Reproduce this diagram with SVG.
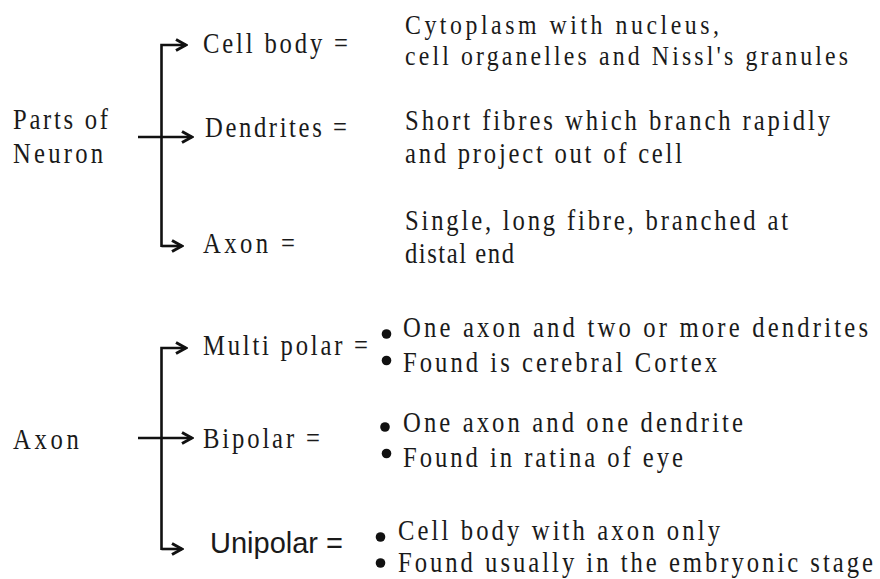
<svg xmlns="http://www.w3.org/2000/svg" width="880" height="579" viewBox="0 0 880 579">
<style>
.t{font-family:"Liberation Serif","Times New Roman",serif;font-size:29px;fill:#1a1a1a}
.sm{font-size:28px}
.s{font-family:"Liberation Sans",Arial,sans-serif;font-size:29px;fill:#1a1a1a}
.c{stroke:#111;stroke-width:2.6;fill:none}
.b{fill:#111}
</style>
<defs>
<marker id="ah" viewBox="0 0 14 14" refX="12" refY="7" markerWidth="14" markerHeight="14" markerUnits="userSpaceOnUse" orient="auto">
<path d="M2,1.5 L12,7 L2,12.5" fill="none" stroke="#111" stroke-width="3" stroke-linejoin="miter"/>
</marker>
</defs>
<rect width="880" height="579" fill="#fff"/>
<g id="connectors">
<path class="c" d="M161.5,247 V45 H186" marker-end="url(#ah)"/>
<path class="c" d="M138,137 H192" marker-end="url(#ah)"/>
<path class="c" d="M161.5,246 H182" marker-end="url(#ah)"/>
<path class="c" d="M161.5,550 V348 H186" marker-end="url(#ah)"/>
<path class="c" d="M138,438 H192" marker-end="url(#ah)"/>
<path class="c" d="M161.5,549 H182" marker-end="url(#ah)"/>
</g>
<g id="parts-of-neuron">
<text class="t" transform="translate(13,129) scale(0.85,1)" textLength="111.8" lengthAdjust="spacing">Parts of</text>
<text class="t" transform="translate(13,163) scale(0.85,1)" textLength="105.9" lengthAdjust="spacing">Neuron</text>
</g>
<g id="cell-body">
<text class="t" transform="translate(203,53) scale(0.85,1)" textLength="170.6" lengthAdjust="spacing">Cell body =</text>
<text class="t sm" transform="translate(405,34) scale(0.85,1)" textLength="369.4" lengthAdjust="spacing">Cytoplasm with nucleus,</text>
<text class="t sm" transform="translate(405,65) scale(0.85,1)" textLength="521.2" lengthAdjust="spacing">cell organelles and Nissl's granules</text>
</g>
<g id="dendrites">
<text class="t" transform="translate(205,137) scale(0.85,1)" textLength="167.1" lengthAdjust="spacing">Dendrites =</text>
<text class="t" transform="translate(405,130) scale(0.85,1)" textLength="500" lengthAdjust="spacing">Short fibres which branch rapidly</text>
<text class="t" transform="translate(405,163) scale(0.85,1)" textLength="325.9" lengthAdjust="spacing">and project out of cell</text>
</g>
<g id="axon-part">
<text class="t" transform="translate(203,253) scale(0.85,1)" textLength="108.2" lengthAdjust="spacing">Axon =</text>
<text class="t" transform="translate(405,230) scale(0.85,1)" textLength="450.6" lengthAdjust="spacing">Single, long fibre, branched at</text>
<text class="t" transform="translate(405,263) scale(0.85,1)" textLength="128.2" lengthAdjust="spacing">distal end</text>
</g>
<g id="axon">
<text class="t" transform="translate(13,449) scale(0.85,1)" textLength="77.6" lengthAdjust="spacing">Axon</text>
</g>
<g id="multipolar">
<text class="t" transform="translate(203,355) scale(0.85,1)" textLength="194.1" lengthAdjust="spacing">Multi polar =</text>
<circle class="b" cx="386.5" cy="334" r="4.8"/>
<circle class="b" cx="386.5" cy="360.5" r="4.8"/>
<text class="t" transform="translate(403,337) scale(0.85,1)" textLength="547.1" lengthAdjust="spacing">One axon and two or more dendrites</text>
<text class="t" transform="translate(403,372) scale(0.85,1)" textLength="369.4" lengthAdjust="spacing">Found is cerebral Cortex</text>
</g>
<g id="bipolar">
<text class="t" transform="translate(203,448) scale(0.85,1)" textLength="137.6" lengthAdjust="spacing">Bipolar =</text>
<circle class="b" cx="385" cy="427" r="4.8"/>
<circle class="b" cx="386.5" cy="453.5" r="4.8"/>
<text class="t" transform="translate(403,432) scale(0.85,1)" textLength="400" lengthAdjust="spacing">One axon and one dendrite</text>
<text class="t" transform="translate(403,467) scale(0.85,1)" textLength="329.4" lengthAdjust="spacing">Found in ratina of eye</text>
</g>
<g id="unipolar">
<text class="s" x="210" y="553" textLength="133" lengthAdjust="spacingAndGlyphs">Unipolar =</text>
<circle class="b" cx="380.5" cy="537" r="4.8"/>
<circle class="b" cx="380.5" cy="563" r="4.8"/>
<text class="t" transform="translate(398,540) scale(0.85,1)" textLength="378.8" lengthAdjust="spacing">Cell body with axon only</text>
<text class="t" transform="translate(398,572) scale(0.85,1)" textLength="558.8" lengthAdjust="spacing">Found usually in the embryonic stage</text>
</g>
</svg>
